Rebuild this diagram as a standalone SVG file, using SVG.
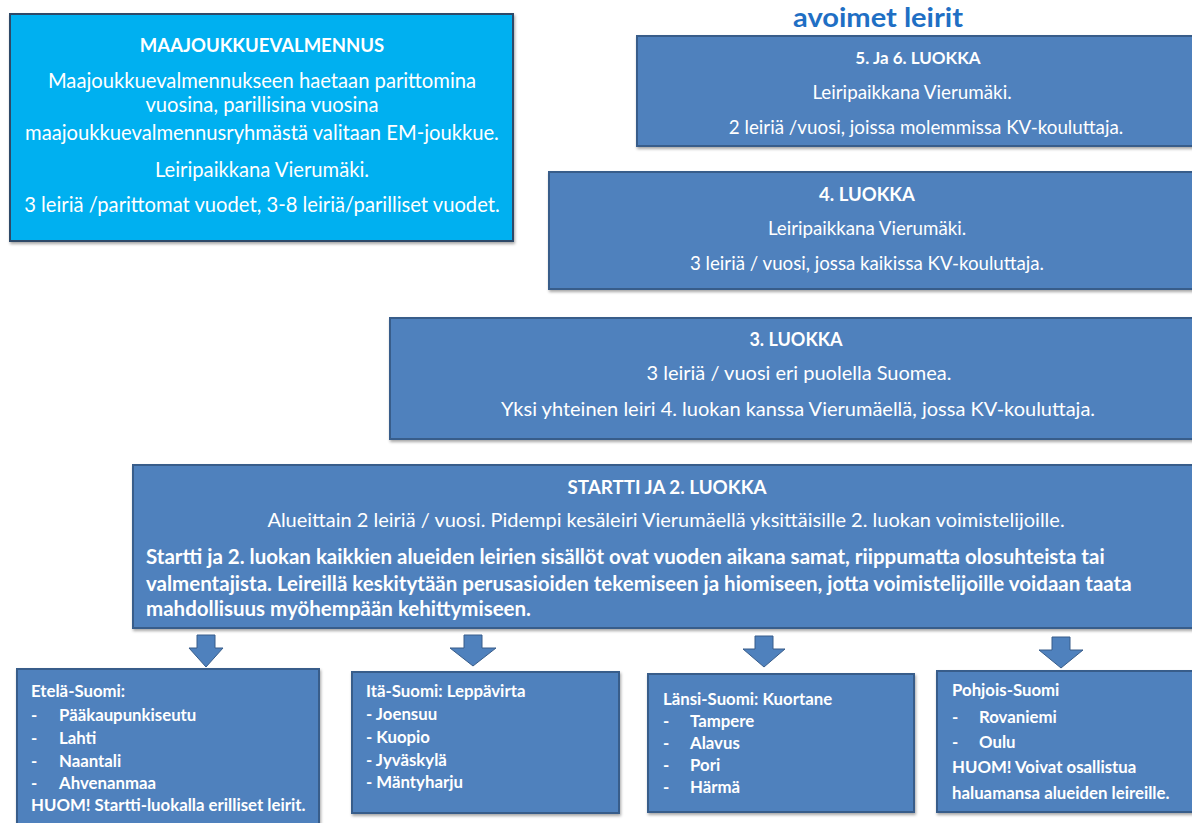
<svg xmlns="http://www.w3.org/2000/svg" width="1192" height="823" viewBox="0 0 1192 823">
<defs>
<style>
.box{fill:#4f81bd;stroke:#385d8a;stroke-width:2}
.cyan{fill:#00b0f0;stroke:#2f4a68;stroke-width:2}
.t{font-family:Lato,"Liberation Sans",sans-serif;fill:#ffffff}
.c{text-anchor:middle}
.b{font-weight:bold}
.s{font-family:Lato,"Liberation Sans",sans-serif;fill:#ffffff;font-size:16.8px;font-weight:bold}
.arrow{fill:#4f81bd;stroke:#385d8a;stroke-width:1}
.head{font-family:Lato,"Liberation Sans",sans-serif;fill:#1f6fc4;font-size:27px;font-weight:bold;text-anchor:middle}
</style>
<filter id="sh" x="-5%" y="-5%" width="110%" height="115%">
<feDropShadow dx="1" dy="2" stdDeviation="1.5" flood-color="#000" flood-opacity="0.35"/>
</filter>
</defs>
<rect width="1192" height="823" fill="#ffffff"/>

<g id="maajoukkue">
<rect class="cyan" x="10" y="14" width="503" height="227" filter="url(#sh)"/>
<text class="t c b" x="262" y="52" font-size="18.5">MAAJOUKKUEVALMENNUS</text>
<text class="t c" x="262" y="88" font-size="20.2">Maajoukkuevalmennukseen haetaan parittomina</text>
<text class="t c" x="262" y="112" font-size="20.2">vuosina, parillisina vuosina</text>
<text class="t c" x="262" y="140" font-size="20.2">maajoukkuevalmennusryhmästä valitaan EM-joukkue.</text>
<text class="t c" x="262" y="177" font-size="20.2">Leiripaikkana Vierumäki.</text>
<text class="t c" x="262" y="212" font-size="20.2">3 leiriä /parittomat vuodet, 3-8 leiriä/parilliset vuodet.</text>
</g>

<g id="title">
<text class="head" x="878" y="27" textLength="170" lengthAdjust="spacingAndGlyphs">avoimet leirit</text>
</g>

<g id="luokka56">
<rect class="box" x="637" y="36" width="560" height="110" filter="url(#sh)"/>
<text class="t c b" x="918" y="64" font-size="17">5. Ja 6. LUOKKA</text>
<text class="t c" x="912" y="99" font-size="18.8">Leiripaikkana Vierumäki.</text>
<text class="t c" x="926" y="134" font-size="18.8">2 leiriä /vuosi, joissa molemmissa KV-kouluttaja.</text>
</g>

<g id="luokka4">
<rect class="box" x="549" y="172" width="648" height="117" filter="url(#sh)"/>
<text class="t c b" x="867" y="201" font-size="18.5">4. LUOKKA</text>
<text class="t c" x="867" y="235" font-size="18.7">Leiripaikkana Vierumäki.</text>
<text class="t c" x="867" y="270" font-size="18.7">3 leiriä / vuosi, jossa kaikissa KV-kouluttaja.</text>
</g>

<g id="luokka3">
<rect class="box" x="390" y="318" width="807" height="121" filter="url(#sh)"/>
<text class="t c b" x="796" y="346" font-size="18">3. LUOKKA</text>
<text class="t c" x="799" y="380" font-size="20">3 leiriä / vuosi eri puolella Suomea.</text>
<text class="t c" x="798" y="416" font-size="20">Yksi yhteinen leiri 4. luokan kanssa Vierumäellä, jossa KV-kouluttaja.</text>
</g>

<g id="startti">
<rect class="box" x="133" y="465" width="1064" height="163" filter="url(#sh)"/>
<text class="t c b" x="667" y="494" font-size="18.8">STARTTI JA 2. LUOKKA</text>
<text class="t c" x="666" y="527" font-size="20">Alueittain 2 leiriä / vuosi. Pidempi kesäleiri Vierumäellä yksittäisille 2. luokan voimistelijoille.</text>
<text class="t b" x="146" y="564" font-size="20.5">Startti ja 2. luokan kaikkien alueiden leirien sisällöt ovat vuoden aikana samat, riippumatta olosuhteista tai</text>
<text class="t b" x="146" y="591" font-size="20.5">valmentajista. Leireillä keskitytään perusasioiden tekemiseen ja hiomiseen, jotta voimistelijoille voidaan taata</text>
<text class="t b" x="146" y="616" font-size="20.5">mahdollisuus myöhempään kehittymiseen.</text>
</g>

<g id="connectors">
<path class="arrow" d="M197,635 H215 V648 H223 L206,667 L189,648 H197 Z"/>
<path class="arrow" d="M464,635 H482 V648 H496 L473,666 L450,648 H464 Z"/>
<path class="arrow" d="M755,636 H773 V649 H785 L764,667 L743,649 H755 Z"/>
<path class="arrow" d="M1052,637 H1070 V650 H1083 L1061,668 L1039,650 H1052 Z"/>
</g>

<g id="etela">
<rect class="box" x="17" y="669" width="302" height="160" filter="url(#sh)"/>
<text class="s" x="31" y="697">Etelä-Suomi:</text>
<text class="s" x="31" y="721">-</text><text class="s" x="59" y="721">Pääkaupunkiseutu</text>
<text class="s" x="31" y="744">-</text><text class="s" x="59" y="744">Lahti</text>
<text class="s" x="31" y="767">-</text><text class="s" x="59" y="767">Naantali</text>
<text class="s" x="31" y="789">-</text><text class="s" x="59" y="789">Ahvenanmaa</text>
<text class="s" x="31" y="811">HUOM! Startti-luokalla erilliset leirit.</text>
</g>

<g id="ita">
<rect class="box" x="352" y="672" width="267" height="141" filter="url(#sh)"/>
<text class="s" x="366" y="697">Itä-Suomi: Leppävirta</text>
<text class="s" x="366" y="720">- Joensuu</text>
<text class="s" x="366" y="743">- Kuopio</text>
<text class="s" x="366" y="766">- Jyväskylä</text>
<text class="s" x="366" y="788">- Mäntyharju</text>
</g>

<g id="lansi">
<rect class="box" x="648" y="674" width="266" height="138" filter="url(#sh)"/>
<text class="s" x="663" y="705">Länsi-Suomi: Kuortane</text>
<text class="s" x="663" y="727">-</text><text class="s" x="690" y="727">Tampere</text>
<text class="s" x="663" y="749">-</text><text class="s" x="690" y="749">Alavus</text>
<text class="s" x="663" y="771">-</text><text class="s" x="690" y="771">Pori</text>
<text class="s" x="663" y="793">-</text><text class="s" x="690" y="793">Härmä</text>
</g>

<g id="pohjois">
<rect class="box" x="937" y="671" width="260" height="141" filter="url(#sh)"/>
<text class="s" x="952" y="696">Pohjois-Suomi</text>
<text class="s" x="952" y="723">-</text><text class="s" x="979" y="723">Rovaniemi</text>
<text class="s" x="952" y="748">-</text><text class="s" x="979" y="748">Oulu</text>
<text class="s" x="952" y="773">HUOM! Voivat osallistua</text>
<text class="s" x="952" y="799">haluamansa alueiden leireille.</text>
</g>
</svg>
